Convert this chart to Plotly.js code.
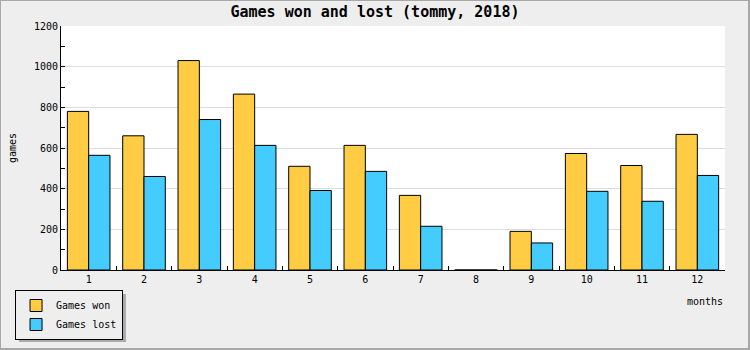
<!DOCTYPE html>
<html>
<head>
<meta charset="utf-8">
<script src="https://cdn.plot.ly/plotly-3.0.1.min.js"></script>
<style>
  html, body { margin: 0; padding: 0; background: #eeeeee; }
  #wrap { position: relative; width: 750px; height: 350px; }
  #chart { position: absolute; left: 0; top: 0; width: 750px; height: 350px; }
  #frame { position: absolute; left: 0; top: 0; width: 750px; height: 350px; box-sizing: border-box;
           border-style: solid; border-color: #a8a8a8; border-width: 1px 2px 2px 1px; pointer-events: none; }
</style>
</head>
<body>
<div id="wrap"><div id="chart"></div><div id="frame"></div></div>
<script>
const months = ["1","2","3","4","5","6","7","8","9","10","11","12"];
const gamesWon  = [780, 660, 1030, 865, 510, 613, 367, 0, 190, 573, 514, 667];
const gamesLost = [564, 460, 740, 613, 391, 485, 215, 0, 133, 387, 338, 465];
const seriesNames = ["Games won", "Games lost"];

const FONT = "DejaVu Sans Mono, Liberation Mono, monospace";
const plotL = 61, plotR = 725.5, plotT = 26, plotB = 270;
const pw = plotR - plotL, ph = plotB - plotT;
const px = v => (v - plotL) / pw;
const py = v => (plotB - v) / ph;

const traces = [
  { type: "bar", name: seriesNames[0], x: months, y: gamesWon,
    marker: { color: "#ffcc44", line: { color: "#000000", width: 1 } } },
  { type: "bar", name: seriesNames[1], x: months, y: gamesLost,
    marker: { color: "#44ccff", line: { color: "#000000", width: 1 } } }
];

const layout = {
  width: 750, height: 350,
  margin: { l: plotL, r: 750 - plotR, t: plotT, b: 350 - plotB, pad: 0, autoexpand: false },
  paper_bgcolor: "#eeeeee", plot_bgcolor: "#ffffff",
  font: { family: FONT, size: 10, color: "#000000" },
  title: { text: "<b>Games won and lost (tommy, 2018)</b>", font: { family: FONT, size: 15, color: "#000" },
           x: 0.5, xref: "container", y: 1 - 12/350, yref: "container", yanchor: "middle" },
  barmode: "group", bargap: 0.23, bargroupgap: 0,
  hovermode: false,
  xaxis: { type: "category", ticks: "inside", tickson: "boundaries", ticklen: 4, tickcolor: "#000",
           showline: true, linecolor: "#000", linewidth: 1, showgrid: false, zeroline: false,
           tickfont: { family: FONT, size: 10 }, fixedrange: true, automargin: false },
  yaxis: { range: [0, 1200], dtick: 200, tick0: 0, ticks: "inside", ticklen: 4, tickcolor: "#000",
           showline: true, linecolor: "#000", linewidth: 1, showgrid: true, gridcolor: "#dddddd",
           zeroline: false, tickfont: { family: FONT, size: 10 }, fixedrange: true, automargin: false,
           minor: { dtick: 100, ticks: "inside", ticklen: 4, tickcolor: "#000", showgrid: false },
           title: { text: "games", font: { family: FONT, size: 10 }, standoff: 15 } },
  showlegend: true,
  legend: { x: px(15), xanchor: "left", y: py(290), yanchor: "top", xref: "paper", yref: "paper",
            bgcolor: "#eeeeee", bordercolor: "#000000", borderwidth: 1,
            font: { family: FONT, size: 10 }, orientation: "v" },
  annotations: [
    { text: "months", xref: "paper", yref: "paper", x: 1, y: py(301), xanchor: "right", yanchor: "middle",
      showarrow: false, font: { family: FONT, size: 10 } }
  ],
  shapes: [
    { type: "rect", xref: "paper", yref: "paper", layer: "below",
      x0: px(19), x1: px(126), y0: py(294), y1: py(342),
      fillcolor: "#aaaaaa", line: { width: 0 } }
  ]
};

Plotly.newPlot("chart", traces, layout, { displayModeBar: false, staticPlot: true });
</script>
</body>
</html>
